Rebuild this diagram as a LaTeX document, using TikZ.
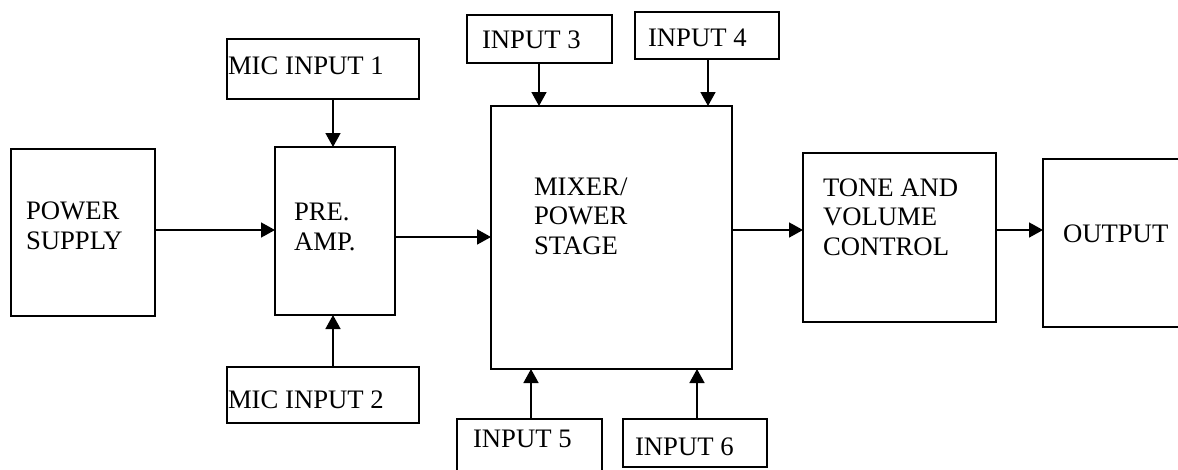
\documentclass[tikz,border=0pt]{standalone}
\usepackage{fontspec}
\setmainfont{Liberation Serif}
\usetikzlibrary{arrows.meta}
\tikzset{
  blk/.style={draw, line width=1.6pt, inner sep=0pt, outer sep=0pt, anchor=north west, rectangle},
  lbl/.style={inner sep=0pt, outer sep=0pt, anchor=base west, align=left, font=\fontsize{26.7}{29.5}\selectfont},
  arr/.style={line width=1.6pt, -{Triangle[length=14pt,width=15pt]}}
}
\begin{document}
\begin{tikzpicture}[x=1pt,y=-1pt]
\useasboundingbox (0,0) rectangle (1178,469);
\clip (0,0) rectangle (1178,469);
% boxes
\node[blk, minimum width=144pt, minimum height=167pt] (power) at (11,149) {};
\node[blk, minimum width=120pt, minimum height=168pt] (pre) at (275,147) {};
\node[blk, minimum width=192pt, minimum height=60pt] (mic1) at (227,39) {};
\node[blk, minimum width=192pt, minimum height=56pt] (mic2) at (227,367) {};
\node[blk, minimum width=241pt, minimum height=263pt] (mixer) at (491,106) {};
\node[blk, minimum width=145pt, minimum height=48pt] (in3) at (467,15) {};
\node[blk, minimum width=144pt, minimum height=47pt] (in4) at (635,12) {};
\node[blk, minimum width=145pt, minimum height=80pt] (in5) at (457,419) {};
\node[blk, minimum width=144pt, minimum height=48pt] (in6) at (623,419) {};
\node[blk, minimum width=193pt, minimum height=169pt] (tone) at (803,153) {};
\node[blk, minimum width=180pt, minimum height=168pt] (output) at (1043,159) {};
% labels (base anchor = baseline of last line)
\node[lbl] (tpower) at (26,249) {POWER\\SUPPLY};
\node[lbl] (tpre) at (294,250) {PRE.\\AMP.};
\node[lbl] (tmixer) at (534,254) {MIXER/\\POWER\\STAGE};
\node[lbl] (ttone) at (823,255) {TONE AND\\VOLUME\\CONTROL};
\node[lbl] (toutput) at (1063,242) {OUTPUT};
\node[lbl] (tmic1) at (228,74) {MIC INPUT 1};
\node[lbl] (tmic2) at (228,408) {MIC INPUT 2};
\node[lbl] (tin3) at (482,48) {INPUT 3};
\node[lbl] (tin4) at (648,46) {INPUT 4};
\node[lbl] (tin5) at (473,447) {INPUT 5};
\node[lbl] (tin6) at (635,455) {INPUT 6};
% connectors
\draw[arr] (power.east |- 0,230) -- (pre.west |- 0,230);
\draw[arr] (pre.east |- 0,237) -- (mixer.west |- 0,237);
\draw[arr] (mixer.east |- 0,230) -- (tone.west |- 0,230);
\draw[arr] (tone.east |- 0,230) -- (output.west |- 0,230);
\draw[arr] (mic1.south -| 333,0) -- (pre.north -| 333,0);
\draw[arr] (mic2.north -| 333,0) -- (pre.south -| 333,0);
\draw[arr] (in3.south -| 539,0) -- (mixer.north -| 539,0);
\draw[arr] (in4.south -| 708,0) -- (mixer.north -| 708,0);
\draw[arr] (in5.north -| 531,0) -- (mixer.south -| 531,0);
\draw[arr] (in6.north -| 697,0) -- (mixer.south -| 697,0);
\end{tikzpicture}
\end{document}
